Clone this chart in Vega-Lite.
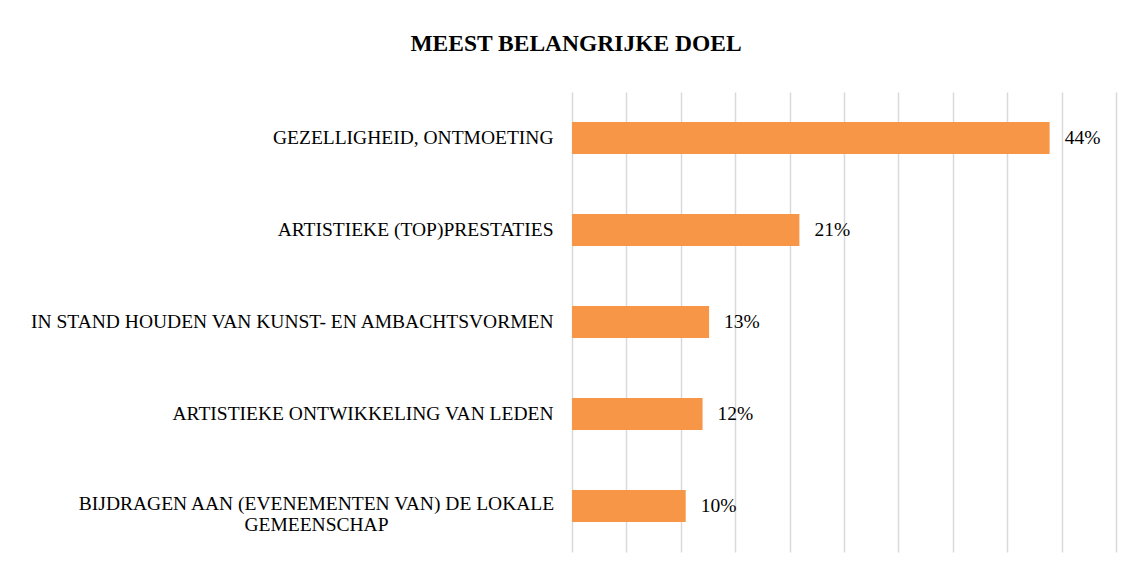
{
  "$schema": "https://vega.github.io/schema/vega-lite/v6.json",
  "width": 544,
  "height": 460,
  "autosize": "none",
  "padding": {"left": 572, "top": 92, "right": 16, "bottom": 27},
  "background": "white",
  "title": {
    "text": "MEEST BELANGRIJKE DOEL",
    "font": "Liberation Serif",
    "fontSize": 23.5,
    "fontWeight": "bold",
    "color": "#000000",
    "anchor": "middle",
    "dx": -268,
    "offset": 37
  },
  "data": {
    "values": [
      {"doel": "GEZELLIGHEID, ONTMOETING", "aandeel": 0.439},
      {"doel": "ARTISTIEKE (TOP)PRESTATIES", "aandeel": 0.209},
      {"doel": "IN STAND HOUDEN VAN KUNST- EN AMBACHTSVORMEN", "aandeel": 0.126},
      {"doel": "ARTISTIEKE ONTWIKKELING VAN LEDEN", "aandeel": 0.12},
      {"doel": "BIJDRAGEN AAN (EVENEMENTEN VAN) DE LOKALE GEMEENSCHAP", "aandeel": 0.1045}
    ]
  },
  "encoding": {
    "y": {
      "field": "doel",
      "type": "nominal",
      "sort": null,
      "scale": {"paddingInner": 0.65, "paddingOuter": 0.325},
      "axis": {
        "title": null,
        "domain": false,
        "ticks": false,
        "grid": false,
        "labelFont": "Liberation Serif",
        "labelFontSize": 19.5,
        "labelColor": "#000000",
        "labelPadding": {"condition": {"test": "indexof(datum.value, 'GEMEENSCHAP') >= 0", "value": 256}, "value": 19},
        "labelAlign": {"condition": {"test": "indexof(datum.value, 'GEMEENSCHAP') >= 0", "value": "center"}, "value": "right"},
        "labelOffset": {"condition": {"test": "indexof(datum.value, 'GEMEENSCHAP') >= 0", "value": -2}, "value": 0},
        "labelLimit": 700,
        "labelLineHeight": 21,
        "labelExpr": "datum.value == 'BIJDRAGEN AAN (EVENEMENTEN VAN) DE LOKALE GEMEENSCHAP' ? ['BIJDRAGEN AAN (EVENEMENTEN VAN) DE LOKALE', 'GEMEENSCHAP'] : datum.value"
      }
    },
    "x": {
      "field": "aandeel",
      "type": "quantitative",
      "scale": {"domain": [0, 0.5], "nice": false},
      "axis": {
        "title": null,
        "labels": false,
        "domain": false,
        "ticks": false,
        "grid": true,
        "values": [0, 0.05, 0.1, 0.15, 0.2, 0.25, 0.3, 0.35, 0.4, 0.45, 0.5],
        "gridColor": "#D9D9D9",
        "gridWidth": 1.5,
        "gridOpacity": 1
      }
    }
  },
  "layer": [
    {"mark": {"type": "bar", "color": "#F79646"}},
    {
      "mark": {"type": "text", "align": "left", "baseline": "middle", "dx": 15, "font": "Liberation Serif", "fontSize": 19.5, "color": "#000000"},
      "encoding": {"text": {"field": "aandeel", "type": "quantitative", "format": ".0%"}}
    }
  ],
  "config": {"view": {"stroke": null}}
}
